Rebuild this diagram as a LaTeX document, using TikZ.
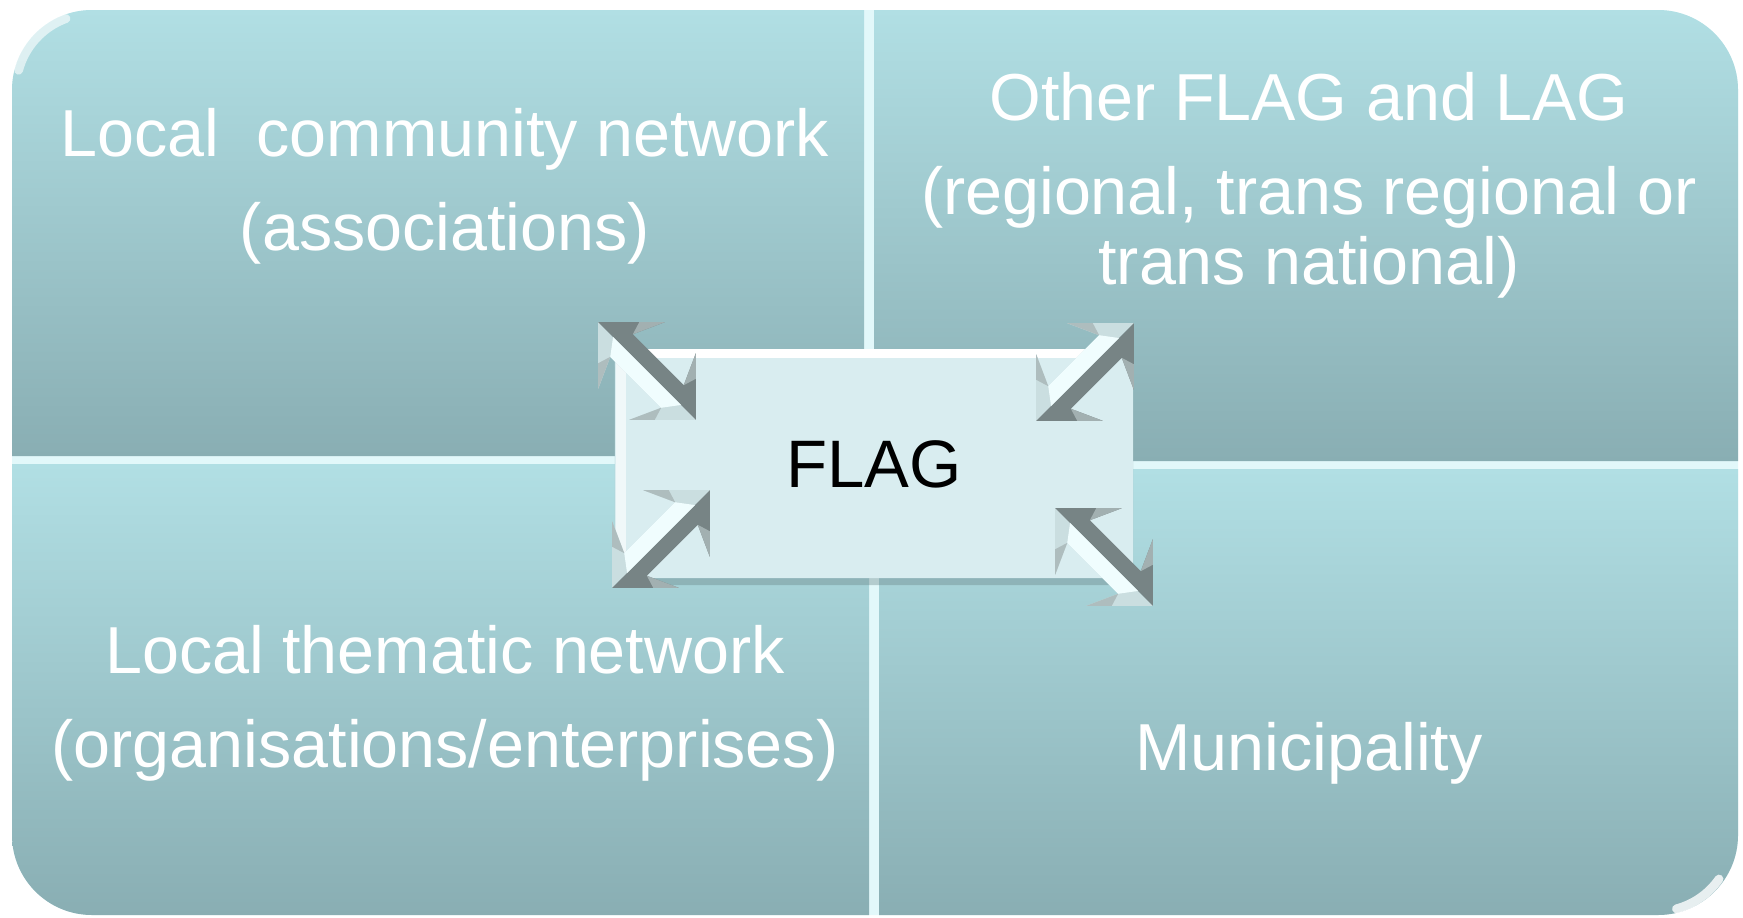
\documentclass[tikz,border=0pt]{standalone}
\usepackage{fontspec}
\setmainfont{Liberation Sans}
\usetikzlibrary{shadows}

\definecolor{quadtop}{HTML}{B1DFE4}
\definecolor{quadbot}{HTML}{89AEB3}
\definecolor{gapcol}{HTML}{E2F8FA}
\definecolor{boxfill}{HTML}{D9EDF0}
\definecolor{arrdark}{HTML}{778485}
\definecolor{arrlight}{HTML}{CADEE0}
\definecolor{arrwhite}{HTML}{F0FDFE}
\definecolor{arrmid}{HTML}{A2B0B1}
\definecolor{arrpale}{HTML}{AEBDBE}

% double headed 3d arrow: centre, angle, side of the dark half
\newcommand{\dblarrow}[3]{%
  \begin{scope}[shift={(#1)},rotate=#2,yscale=#3]
    \fill[arrlight] (69,0) -- (22,-47) -- (36,-16) -- (-36,-16) -- (-22,-47) -- (-69,0) -- cycle;
    \fill[arrdark] (69,0) -- (22,47) -- (36,16) -- (-36,16) -- (-22,47) -- (-69,0) -- cycle;
    \fill[arrwhite] (48,0) -- (36,-16) -- (-36,-16) -- (-48,0) -- cycle;
    \fill[arrmid] (40,29) -- (22,47) -- (36,16) -- cycle;
    \fill[arrmid] (-40,29) -- (-22,47) -- (-36,16) -- cycle;
    \fill[arrpale] (40,-29) -- (22,-47) -- (36,-16) -- cycle;
    \fill[arrpale] (-40,-29) -- (-22,-47) -- (-36,-16) -- cycle;
  \end{scope}}

\begin{document}
\begin{tikzpicture}[x=0.01cm,y=0.01cm]
		\tikzstyle{quad}=[top color=quadtop,bottom color=quadbot]
		\tikzstyle{quadtext}=[text=white,align=center,anchor=base,inner sep=0pt,
			font=\fontsize{18.9}{19.9}\selectfont]
		\tikzstyle{flagbox}=[fill=boxfill,minimum width=5.18cm,minimum height=2.28cm,
			rounded corners=3pt,inner sep=0pt,font=\fontsize{19.1}{20}\selectfont,
			drop shadow={shadow xshift=0pt,shadow yshift=-2pt,fill=quadbot!70!black,opacity=.35}]
		\useasboundingbox (0,0) rectangle (1743,917);
		% light lines between the four parts
		\fill[gapcol,rounded corners=0.8cm] (12,2) rectangle (1738,907);
		\shade[quad] (864,461) -- (12,461) -- (12,827) arc[start angle=180,end angle=90,radius=80] -- (864,907) -- cycle;
		\shade[quad] (874,456) -- (874,907) -- (1658,907) arc[start angle=90,end angle=0,radius=80] -- (1738,456) -- cycle;
		\shade[quad] (869,453) -- (12,453) -- (12,82) arc[start angle=180,end angle=270,radius=80] -- (869,2) -- cycle;
		\shade[quad] (879,448) -- (1738,448) -- (1738,82) arc[start angle=0,end angle=-90,radius=80] -- (879,2) -- cycle;
		% gloss on the corners
		\draw[white,line width=2.5pt,opacity=.6,line cap=round] (18.6,846.7) arc[start angle=165,end angle=110,radius=76];
		\draw[white,line width=2.5pt,opacity=.8,line cap=round] (1719,38) arc[start angle=-35,end angle=-75,radius=76];
		\node[quadtext] (community) at (445,667) {Local~ community network\\[0.24cm](associations)};
		\node[quadtext] (others) at (1309,633) {Other FLAG and LAG\\[0.24cm](regional, trans regional or\\trans national)};
		\node[quadtext] (thematic) at (445,150) {Local thematic network\\[0.24cm](organisations/enterprises)};
		\node[quadtext] (municipality) at (1309,147) {Municipality};
		\node[flagbox] (flag) at (874,453) {FLAG};
		\draw[white,line width=2.5pt] ([xshift=4pt,yshift=-1.3pt]flag.north west) -- ([xshift=-4pt,yshift=-1.3pt]flag.north east);
		\draw[white!60!boxfill,line width=3pt] ([xshift=2pt,yshift=-4pt]flag.north west) -- ([xshift=2pt,yshift=4pt]flag.south west);
		\coordinate (nw) at (647,546);
		\coordinate (ne) at (1085,545);
		\coordinate (sw) at (661,378);
		\coordinate (se) at (1104,360);
		\dblarrow{nw}{-45}{1}
		\dblarrow{ne}{45}{-1}
		\dblarrow{sw}{45}{-1}
		\dblarrow{se}{-45}{1}
	\end{tikzpicture}
\end{document}
